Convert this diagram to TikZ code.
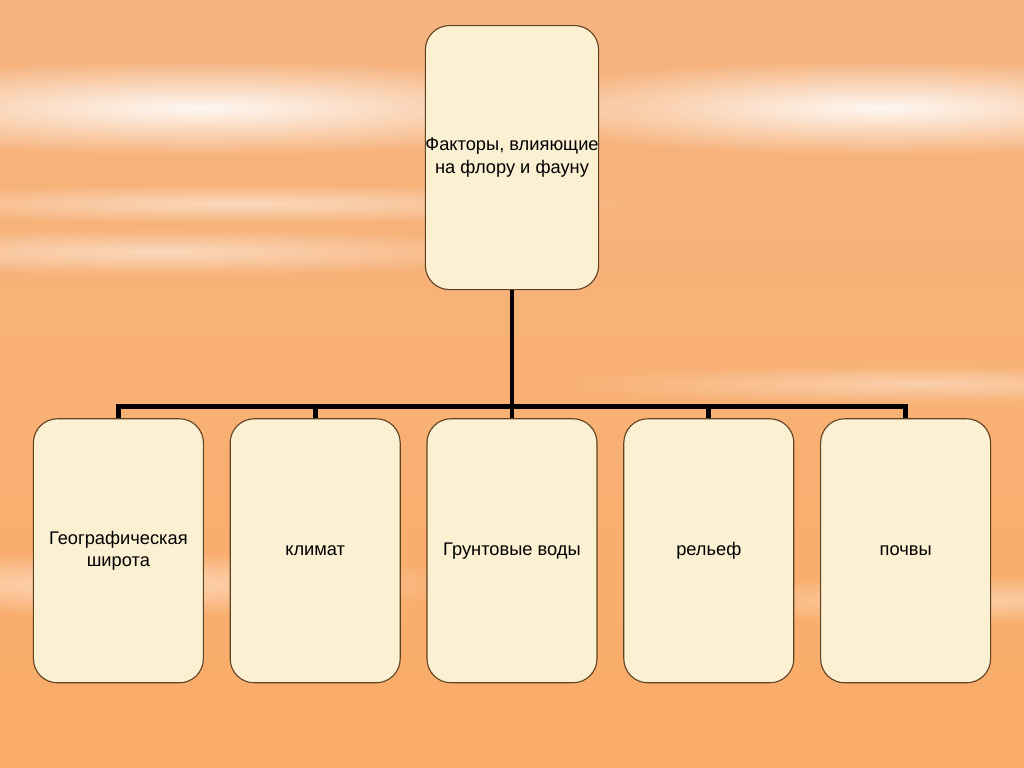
\documentclass[tikz,border=0pt]{standalone}
\usepackage{fontspec}
\setmainfont{Liberation Sans}
\usepackage{xcolor}
\usetikzlibrary{fadings}

\definecolor{bgtop}{RGB}{246,180,128}
\definecolor{bgbottom}{RGB}{250,172,104}
\definecolor{boxfill}{RGB}{252,240,210}
\definecolor{boxline}{RGB}{96,66,36}

\tikzfading[name=softstreak, inner color=transparent!0, outer color=transparent!100]

\begin{document}
\begin{tikzpicture}[
		factorbox/.style={draw=boxline, line width=0.8pt, fill=boxfill, rounded corners=0.6cm,
			minimum width=4.25cm, minimum height=6.6cm, align=center, inner sep=0pt,
			font=\fontsize{13}{16}\selectfont},
		conn/.style={draw=black, line width=3.5pt},
		streak/.style={fill=white, path fading=softstreak}
	]
		% background
		\useasboundingbox (0,0) rectangle (25.6,19.2);
		\shade[top color=bgtop, bottom color=bgbottom] (0,0) rectangle (25.6,19.2);
		\fill[streak, opacity=0.9] (-6,15.3) rectangle (16,17.7);
		\fill[streak, opacity=0.9] (12,15.3) rectangle (32,17.7);
		\fill[streak, opacity=0.5] (-4,13.6) rectangle (16,14.6);
		\fill[streak, opacity=0.5] (-6,12.3) rectangle (14,13.5);
		\fill[streak, opacity=0.4] (14,9.1) rectangle (32,10.1);
		\fill[streak, opacity=0.5] (-6,3.8) rectangle (12,5.4);
		\fill[streak, opacity=0.4] (16,3.6) rectangle (32,4.8);

		% boxes
		\node[factorbox] (factors) at (12.8,15.26) {Факторы, влияющие\\на флору и фауну};

		\node[factorbox] (latitude) at (2.96,5.43) {Географическая\\широта};
		\node[factorbox] (climate) at (7.88,5.43) {климат};
		\node[factorbox] (groundwater) at (12.8,5.43) {Грунтовые воды};
		\node[factorbox] (relief) at (17.72,5.43) {рельеф};
		\node[factorbox] (soils) at (22.64,5.43) {почвы};

		% connectors
		\coordinate (bar) at (0,9.03);
		\draw[conn] (factors.south) -- (factors.south |- bar) -| (latitude.north);
		\draw[conn] (factors.south) -- (factors.south |- bar) -| (climate.north);
		\draw[conn] (factors.south) -- (groundwater.north);
		\draw[conn] (factors.south) -- (factors.south |- bar) -| (relief.north);
		\draw[conn] (factors.south) -- (factors.south |- bar) -| (soils.north);
\end{tikzpicture}
\end{document}
